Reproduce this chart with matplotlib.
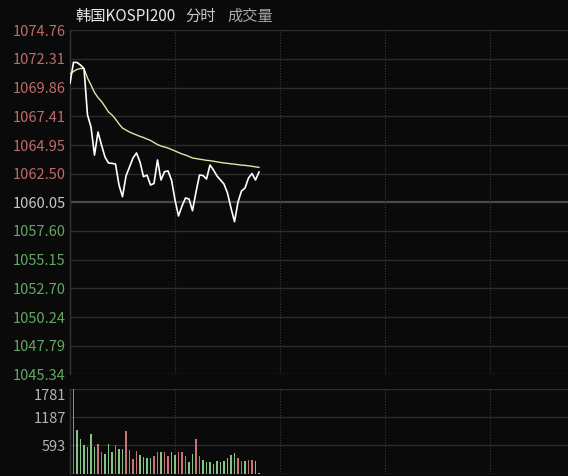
import numpy as np
import matplotlib
matplotlib.use("Agg")
from matplotlib import pyplot as plt

plt.rcParams['font.family'] = ['Noto Sans CJK SC', 'DejaVu Sans']

# price levels on the left axis (prev close in the middle)
price_ticks = [1045.34, 1047.79, 1050.24, 1052.70, 1055.15, 1057.60, 1060.05,
               1062.50, 1064.95, 1067.41, 1069.86, 1072.31, 1074.76]
prev_close = 1060.05

# minute prices
price = [1070.23, 1072.02, 1072.01, 1071.79, 1071.49, 1067.52, 1066.49, 1064.09,
         1066.06, 1064.95, 1063.92, 1063.41, 1063.38, 1063.32, 1061.53, 1060.53,
         1062.30, 1063.07, 1063.84, 1064.27, 1063.50, 1062.24, 1062.38, 1061.53,
         1061.66, 1063.67, 1061.96, 1062.67, 1062.73, 1061.96, 1060.25, 1058.88,
         1059.73, 1060.42, 1060.33, 1059.33, 1060.93, 1062.38, 1062.34, 1062.04,
         1063.24, 1062.81, 1062.30, 1061.96, 1061.61, 1060.84, 1059.56, 1058.39,
         1060.07, 1061.02, 1061.27, 1062.13, 1062.51, 1061.96, 1062.64]

# average price line
avg_price = [1071.02, 1071.24, 1071.41, 1071.49, 1071.49, 1070.68, 1070.08, 1069.44,
             1069.01, 1068.67, 1068.24, 1067.77, 1067.52, 1067.17, 1066.75, 1066.40,
             1066.23, 1066.06, 1065.93, 1065.81, 1065.69, 1065.59, 1065.46, 1065.34,
             1065.16, 1064.99, 1064.86, 1064.78, 1064.69, 1064.57, 1064.44, 1064.31,
             1064.18, 1064.09, 1063.97, 1063.84, 1063.79, 1063.74, 1063.69, 1063.64,
             1063.61, 1063.56, 1063.51, 1063.46, 1063.42, 1063.38, 1063.34, 1063.31,
             1063.27, 1063.23, 1063.21, 1063.17, 1063.13, 1063.08, 1063.04]

# volume per minute (starts at the second point)
volume = [1781, 914, 721, 593, 550, 828, 571, 628, 464, 414, 628, 464, 593, 528,
          528, 893, 507, 307, 486, 400, 357, 321, 321, 364, 450, 464, 450,
          364, 464, 386, 450, 464, 364, 236, 421, 721, 378, 293, 250, 250, 193,
          264, 250, 264, 321, 400, 443, 336, 264, 264, 293, 293, 271, 20]
vol_dir = "rggggggrrgggrggrrrrggggrrgr" + "rggrrrggrrggggggggggrrgrrgn"
vol_ticks = [593, 1187, 1781]

bg = '#0a0a0a'
grid_c = '#2c2c2c'
up_c = '#c87474'
down_c = '#86c486'

fig = plt.figure(figsize=(5.68, 4.76), dpi=100, facecolor=bg)
W, H = 568.0, 476.0

def box(l, t, r, b):
    return [l / W, 1 - b / H, (r - l) / W, (b - t) / H]

ax = fig.add_axes(box(70, 30.3, 568, 374.3), facecolor=bg)
axv = fig.add_axes(box(70, 389.3, 568, 473.5), facecolor=bg)

x_max = (568 - 70) / 3.5
vlines = [30, 60, 90, 120]

# price panel
x = np.arange(len(price))
for lv in price_ticks:
    if lv == prev_close:
        ax.axhline(lv, color='#4a4a4a', lw=1.6, zorder=1)
    else:
        ax.axhline(lv, color=grid_c, lw=1, zorder=1)
for v in vlines:
    ax.axvline(v, color='#3a3a3a', lw=0.8, ls=(0, (1, 1.5)), zorder=1)
ax.plot(x, avg_price, color='#e6e2a4', lw=1, zorder=3)
ax.plot(x, price, color='#ffffff', lw=1.2, zorder=4)
ax.set_xlim(0, x_max)
ax.set_ylim(price_ticks[0], price_ticks[-1])
ax.set_yticks(price_ticks)
ax.set_yticklabels(['%.2f' % v for v in price_ticks])
for lv, lab in zip(price_ticks, ax.get_yticklabels()):
    if lv > prev_close:
        lab.set_color('#c06a6a')
    elif lv < prev_close:
        lab.set_color('#62a862')
    else:
        lab.set_color('#c8c8c8')
ax.set_xticks([])
ax.tick_params(axis='y', length=0, pad=3, labelsize=10.5)

# volume panel
xb = np.arange(1, len(volume) + 1)
cols = [up_c if d == 'r' else (down_c if d == 'g' else '#bbbbbb') for d in vol_dir]
for lv in vol_ticks:
    axv.axhline(lv, color=grid_c, lw=1, zorder=1)
axv.axhline(0, color=grid_c, lw=1, zorder=1)
for v in vlines:
    axv.axvline(v, color='#3a3a3a', lw=0.8, ls=(0, (1, 1.5)), zorder=1)
axv.bar(xb, volume, width=0.36, color=cols, zorder=3)
axv.set_xlim(0, x_max)
axv.set_ylim(0, 1781)
axv.set_yticks(vol_ticks)
axv.set_yticklabels([str(v) for v in vol_ticks])
axv.set_xticks([])
axv.tick_params(axis='y', length=0, pad=3, labelsize=10.5, labelcolor='#b4b4b4')
for lab in axv.get_yticklabels():
    if lab.get_text() == '1781':
        lab.set_va('top')

for a in (ax, axv):
    for s in ('top', 'right', 'bottom'):
        a.spines[s].set_visible(False)
    a.spines['left'].set_color('#333333')
    a.spines['left'].set_linewidth(1)

# header
fig.text(75 / W, 1 - 16 / H, '韩国KOSPI200', color='#e8e8e8', fontsize=11, va='center', ha='left')
fig.text(185 / W, 1 - 16 / H, '分时', color='#c8c8c8', fontsize=11, va='center', ha='left')
fig.text(227 / W, 1 - 16 / H, '成交量', color='#a8a8a8', fontsize=11, va='center', ha='left')

fig.savefig('out.png', dpi=100, facecolor=bg)
